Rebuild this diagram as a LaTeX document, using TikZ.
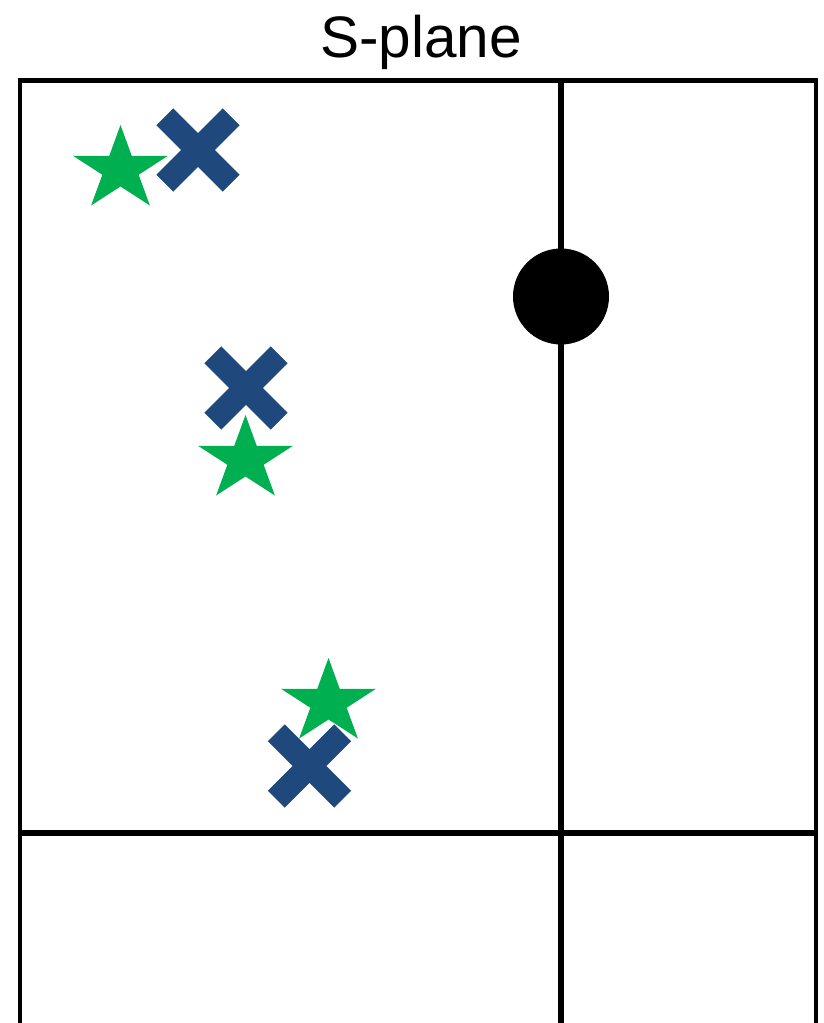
\documentclass[tikz,border=0pt]{standalone}
\usepackage{fontspec}
\setmainfont{Liberation Sans}
\definecolor{xblue}{HTML}{1F497D}
\definecolor{sgreen}{HTML}{00B050}
\tikzset{
  frameline/.style={line width=4.5pt, draw=black},
  axisline/.style={line width=6.5pt, draw=black},
  crossfill/.style={fill=xblue},
  starfill/.style={fill=sgreen},
}
\newcommand{\starmark}[2]{%
  \fill[starfill] ({#1+50*cos(90)},{#2-44.5*sin(90)})
    \foreach \k in {0,...,4}{
      -- ({#1+0.382*50*cos(126+72*\k)},{#2-0.382*44.5*sin(126+72*\k)})
      -- ({#1+50*cos(162+72*\k)},{#2-44.5*sin(162+72*\k)})
    } -- cycle;}
\newcommand{\crossmark}[2]{%
  \fill[crossfill,rotate around={45:(#1,#2)}] (#1-47,#2-12) rectangle (#1+47,#2+12);
  \fill[crossfill,rotate around={-45:(#1,#2)}] (#1-47,#2-12) rectangle (#1+47,#2+12);}
\begin{document}
\begin{tikzpicture}[x=1pt,y=-1pt]
\useasboundingbox (0,0) rectangle (823,1023);
\clip (0,0) rectangle (823,1023);
\node[anchor=base, inner sep=0pt, font=\fontsize{58.5}{60}\selectfont] (title) at (421,57) {S-plane};
\draw[frameline] (20,80.5) rectangle (816,1040);
\draw[axisline] (561,80.5) -- (561,1040);
\draw[axisline] (20,833) -- (816,833);
\fill[black] (561,296.5) circle (48);
\starmark{120.5}{169.5}
\starmark{245.5}{459.5}
\starmark{328.5}{702.5}
\crossmark{198}{150}
\crossmark{246}{388}
\crossmark{309.5}{766}
\end{tikzpicture}
\end{document}
